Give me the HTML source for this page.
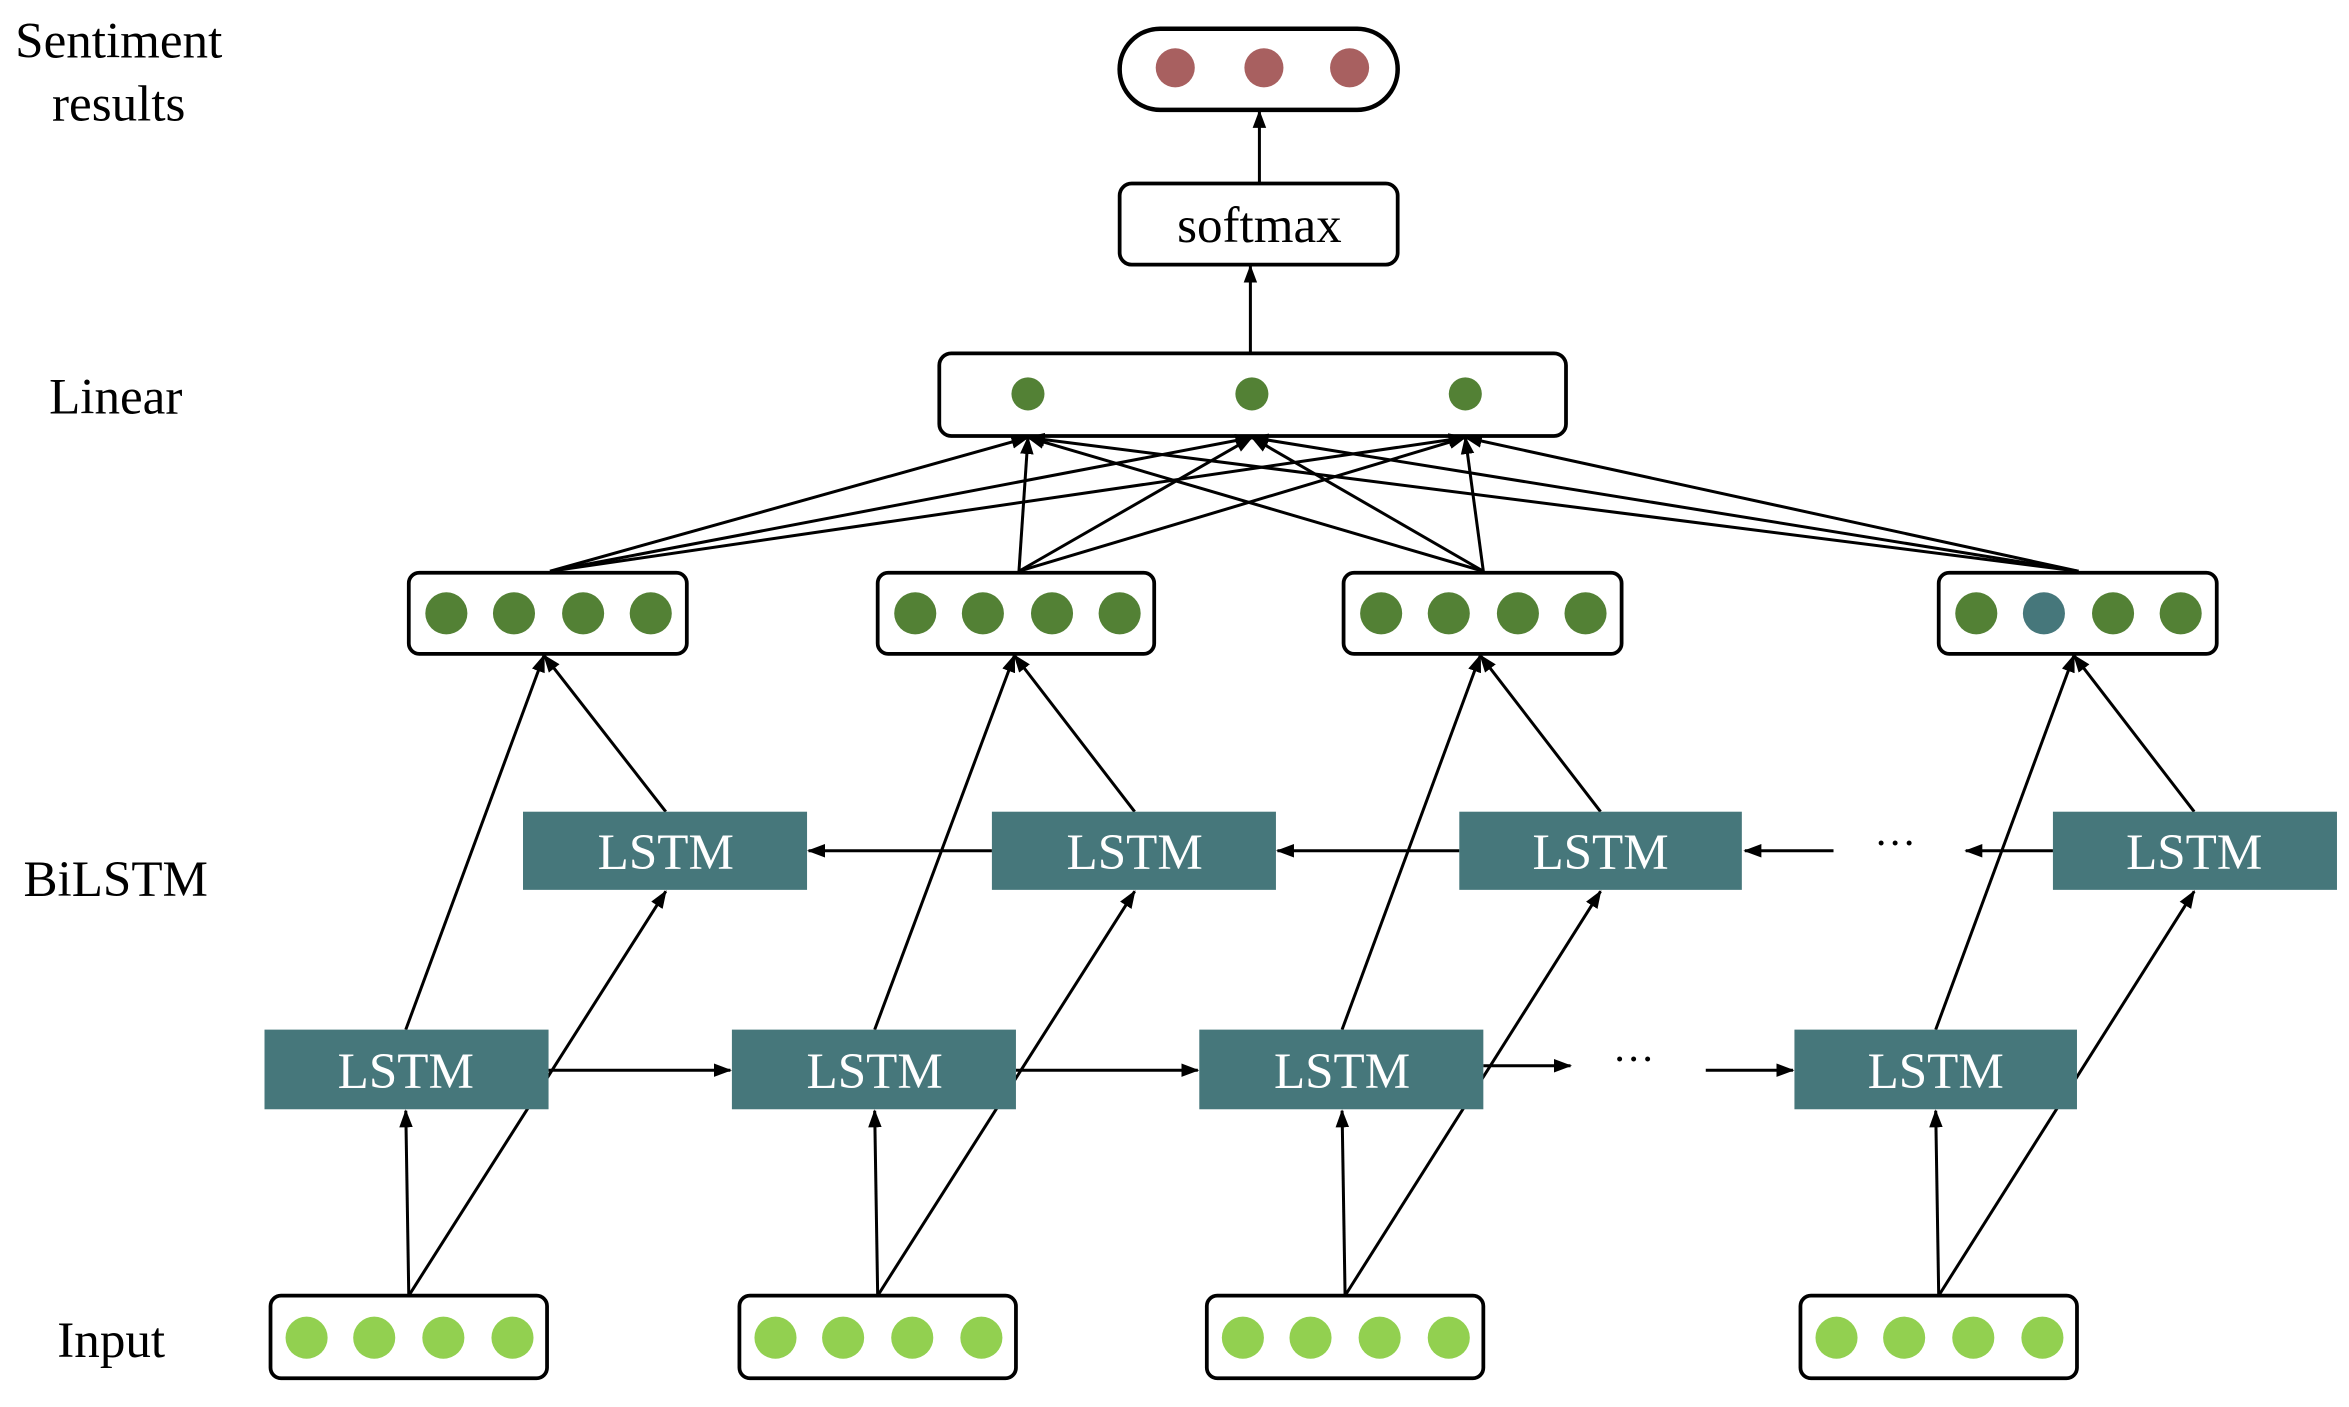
<!DOCTYPE html>
<html><head><meta charset="utf-8"><style>html,body{margin:0;padding:0;background:#fff}svg{display:block}</style></head>
<body>
<svg width="2349" height="1407" viewBox="0 0 1563 936" xmlns="http://www.w3.org/2000/svg" font-family="Liberation Serif, serif">
<defs><marker id="a" markerWidth="12" markerHeight="12" refX="11" refY="6" orient="auto" markerUnits="userSpaceOnUse"><path d="M0,1.5 L12,6 L0,10.5 z" fill="#000"/></marker></defs>
<g font-size="34" text-anchor="middle" fill="#000">
<text x="79" y="38">Sentiment</text><text x="79" y="80">results</text>
<text x="77" y="275">Linear</text><text x="77" y="596">BiLSTM</text><text x="74" y="903">Input</text>
</g>
<rect x="745" y="19" width="185" height="54" rx="27" fill="#fff" stroke="#000" stroke-width="3"/>
<g fill="#a86060"><circle cx="782" cy="45" r="13"/><circle cx="841" cy="45" r="13"/><circle cx="898" cy="45" r="13"/></g>
<rect x="745" y="122" width="185" height="54" rx="8" fill="#fff" stroke="#000" stroke-width="2.5"/>
<text x="838" y="161" font-size="34" text-anchor="middle">softmax</text>
<g stroke="#000" stroke-width="2" fill="none" marker-end="url(#a)">
<line x1="838" y1="122" x2="838" y2="74"/><line x1="832" y1="235" x2="832" y2="177"/>
</g>
<rect x="625" y="235" width="417" height="55" rx="8" fill="#fff" stroke="#000" stroke-width="2.5"/>
<g fill="#538135"><circle cx="684" cy="262" r="11"/><circle cx="833" cy="262" r="11"/><circle cx="975" cy="262" r="11"/></g>
<g stroke="#000" stroke-width="2" marker-end="url(#a)">
<line x1="366" y1="380" x2="684" y2="291"/><line x1="366" y1="380" x2="833" y2="291"/><line x1="366" y1="380" x2="975" y2="291"/>
<line x1="678" y1="380" x2="684" y2="291"/><line x1="678" y1="380" x2="833" y2="291"/><line x1="678" y1="380" x2="975" y2="291"/>
<line x1="987" y1="380" x2="684" y2="291"/><line x1="987" y1="380" x2="833" y2="291"/><line x1="987" y1="380" x2="975" y2="291"/>
<line x1="1383" y1="380" x2="684" y2="291"/><line x1="1383" y1="380" x2="833" y2="291"/><line x1="1383" y1="380" x2="975" y2="291"/>
</g>
<g stroke="#000" stroke-width="2.5" fill="#fff">
<rect x="272" y="381" width="185" height="54" rx="7"/><rect x="584" y="381" width="184" height="54" rx="7"/>
<rect x="894" y="381" width="185" height="54" rx="7"/><rect x="1290" y="381" width="185" height="54" rx="7"/>
<rect x="180" y="862" width="184" height="55" rx="7"/><rect x="492" y="862" width="184" height="55" rx="7"/>
<rect x="803" y="862" width="184" height="55" rx="7"/><rect x="1198" y="862" width="184" height="55" rx="7"/>
</g>
<g fill="#538135">
<circle cx="297" cy="408" r="14"/><circle cx="342" cy="408" r="14"/><circle cx="388" cy="408" r="14"/><circle cx="433" cy="408" r="14"/>
<circle cx="609" cy="408" r="14"/><circle cx="654" cy="408" r="14"/><circle cx="700" cy="408" r="14"/><circle cx="745" cy="408" r="14"/>
<circle cx="919" cy="408" r="14"/><circle cx="964" cy="408" r="14"/><circle cx="1010" cy="408" r="14"/><circle cx="1055" cy="408" r="14"/>
<circle cx="1315" cy="408" r="14"/><circle cx="1360" cy="408" r="14" fill="#46777b"/><circle cx="1406" cy="408" r="14"/><circle cx="1451" cy="408" r="14"/>
</g>
<g fill="#92d050">
<circle cx="204" cy="890" r="14"/><circle cx="249" cy="890" r="14"/><circle cx="295" cy="890" r="14"/><circle cx="341" cy="890" r="14"/>
<circle cx="516" cy="890" r="14"/><circle cx="561" cy="890" r="14"/><circle cx="607" cy="890" r="14"/><circle cx="653" cy="890" r="14"/>
<circle cx="827" cy="890" r="14"/><circle cx="872" cy="890" r="14"/><circle cx="918" cy="890" r="14"/><circle cx="964" cy="890" r="14"/>
<circle cx="1222" cy="890" r="14"/><circle cx="1267" cy="890" r="14"/><circle cx="1313" cy="890" r="14"/><circle cx="1359" cy="890" r="14"/>
</g>
<g stroke="#000" stroke-width="2" marker-end="url(#a)">
<line x1="272" y1="862" x2="270" y2="739"/><line x1="272" y1="862" x2="443" y2="593"/><line x1="270" y1="685" x2="362" y2="436"/><line x1="443" y1="540" x2="362" y2="436"/>
<line x1="584" y1="862" x2="582" y2="739"/><line x1="584" y1="862" x2="755" y2="593"/><line x1="582" y1="685" x2="675" y2="436"/><line x1="755" y1="540" x2="675" y2="436"/>
<line x1="895" y1="862" x2="893" y2="739"/><line x1="895" y1="862" x2="1065" y2="593"/><line x1="893" y1="685" x2="985" y2="436"/><line x1="1065" y1="540" x2="985" y2="436"/>
<line x1="1290" y1="862" x2="1288" y2="739"/><line x1="1290" y1="862" x2="1460" y2="593"/><line x1="1288" y1="685" x2="1380" y2="436"/><line x1="1460" y1="540" x2="1380" y2="436"/>
<line x1="365" y1="712" x2="486" y2="712"/><line x1="676" y1="712" x2="797" y2="712"/><line x1="987" y1="709" x2="1045" y2="709"/><line x1="1135" y1="712" x2="1193" y2="712"/>
<line x1="660" y1="566" x2="538" y2="566"/><line x1="971" y1="566" x2="850" y2="566"/><line x1="1220" y1="566" x2="1161" y2="566"/><line x1="1366" y1="566" x2="1308" y2="566"/>
</g>
<g fill="#46777b">
<rect x="348" y="540" width="189" height="52"/><rect x="660" y="540" width="189" height="52"/><rect x="971" y="540" width="188" height="52"/><rect x="1366" y="540" width="189" height="52"/>
<rect x="176" y="685" width="189" height="53"/><rect x="487" y="685" width="189" height="53"/><rect x="798" y="685" width="189" height="53"/><rect x="1194" y="685" width="188" height="53"/>
</g>
<g fill="#fff" font-size="34" text-anchor="middle">
<text x="443" y="578">LSTM</text><text x="755" y="578">LSTM</text><text x="1065" y="578">LSTM</text><text x="1460" y="578">LSTM</text>
<text x="270" y="724">LSTM</text><text x="582" y="724">LSTM</text><text x="893" y="724">LSTM</text><text x="1288" y="724">LSTM</text>
</g>
<g font-size="28" text-anchor="middle"><text x="1261" y="570">···</text><text x="1087" y="714">···</text></g>
</svg>
</body></html>
